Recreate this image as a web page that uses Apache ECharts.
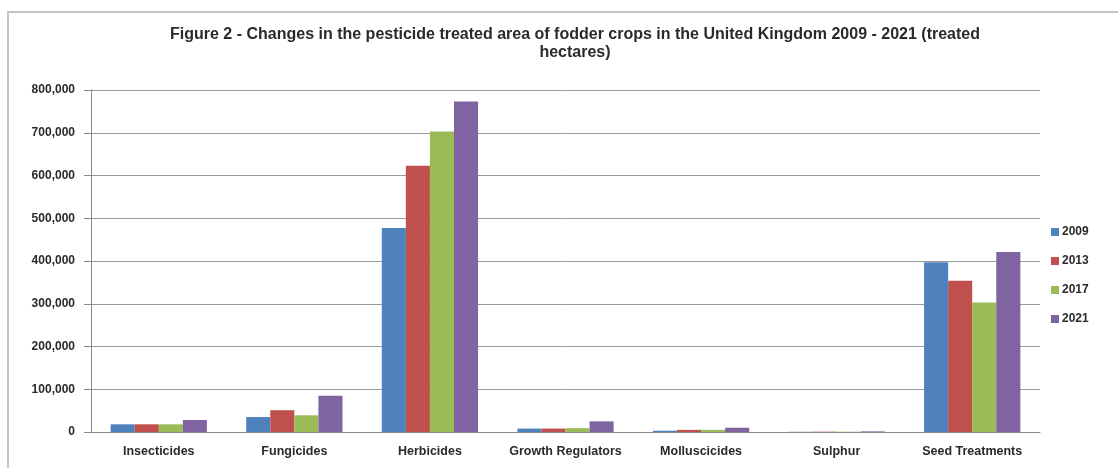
<!DOCTYPE html>
<html>
<head>
<meta charset="utf-8">
<script src="https://cdn.jsdelivr.net/npm/echarts@6/dist/echarts.min.js"></script>
<style>
  html, body { margin: 0; padding: 0; background: #fff; }
  #chart { width: 1118px; height: 468px; }
</style>
</head>
<body>
<div id="chart"></div>
<script>
// Pesticide treated area of fodder crops, UK (treated hectares)
const categories = ['Insecticides', 'Fungicides', 'Herbicides', 'Growth Regulators', 'Molluscicides', 'Sulphur', 'Seed Treatments'];
const years = ['2009', '2013', '2017', '2021'];
const values2009 = [18000, 35000, 477000, 8000, 3000, 500, 397000];
const values2013 = [18000, 51000, 623000, 8000, 5000, 800, 354000];
const values2017 = [18000, 39000, 703000, 9000, 5000, 700, 303000];
const values2021 = [28000, 85000, 773000, 25000, 10000, 1500, 421000];
const seriesValues = [values2009, values2013, values2017, values2021];
const colors = ['#4F81BD', '#C0504D', '#9BBB59', '#8064A2'];
const titleText = 'Figure 2 - Changes in the pesticide treated area of fodder crops in the United Kingdom 2009 - 2021 (treated\nhectares)';

const font = '"Liberation Sans", Arial, sans-serif';

const chart = echarts.init(document.getElementById('chart'), null, { renderer: 'canvas' });
chart.setOption({
  animation: false,
  backgroundColor: '#fff',
  color: colors,
  textStyle: { fontFamily: font },
  graphic: [{
    type: 'rect',
    shape: { x: 8, y: 12, width: 1130, height: 480 },
    style: { fill: 'none', stroke: '#c4c4c4', lineWidth: 2 },
    silent: true
  }],
  title: {
    text: titleText,
    left: 570,
    top: 21,
    textAlign: 'center',
    textStyle: { fontFamily: font, fontSize: 16, fontWeight: 'bold', color: '#2a2a2a', lineHeight: 18 }
  },
  legend: {
    orient: 'vertical',
    left: 1046,
    top: 221,
    itemWidth: 8,
    itemHeight: 8,
    itemGap: 17,
    icon: 'rect',
    data: years,
    textStyle: { fontFamily: font, fontSize: 12, fontWeight: 'bold', color: '#2a2a2a', padding: [0, 0, 0, -2] }
  },
  grid: { left: 91, right: 78, top: 90, bottom: 36, containLabel: false },
  xAxis: {
    type: 'category',
    data: categories,
    axisLine: { lineStyle: { color: '#8a8a8a', width: 1 } },
    axisTick: { show: false },
    axisLabel: { fontFamily: font, fontSize: 12.5, fontWeight: 'bold', color: '#2a2a2a', margin: 13, interval: 0 }
  },
  yAxis: {
    type: 'value',
    min: 0,
    max: 800000,
    interval: 100000,
    axisLine: { show: true, lineStyle: { color: '#8a8a8a', width: 1 } },
    axisTick: { show: true, length: 7, lineStyle: { color: '#8a8a8a' } },
    splitLine: { lineStyle: { color: '#9a9a9a', width: 1 } },
    axisLabel: {
      fontFamily: font, fontSize: 12, fontWeight: 'bold', color: '#2a2a2a', margin: 16,
      formatter: v => v.toLocaleString('en-US')
    }
  },
  series: years.map((y, i) => ({
    name: y,
    type: 'bar',
    data: seriesValues[i],
    barGap: '0%',
    barCategoryGap: '29%',
    itemStyle: { color: colors[i] }
  }))
});
</script>
</body>
</html>
